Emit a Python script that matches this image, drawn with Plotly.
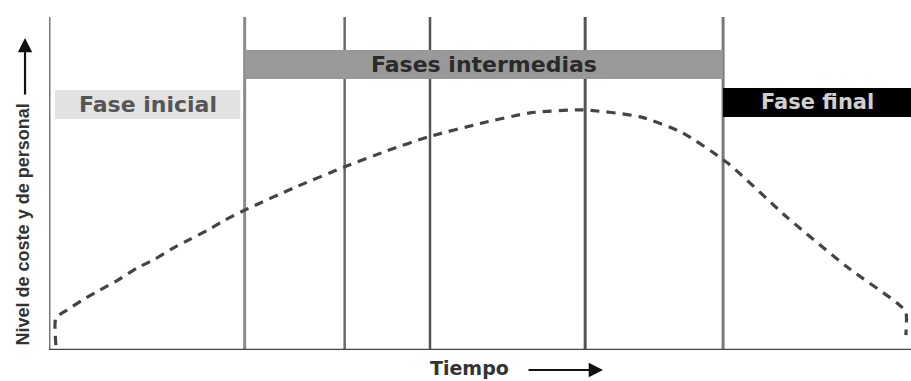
import plotly.graph_objects as go

# ---------------- data (time and level in % of the axes) ----------------
phase_labels = ["Fase inicial", "Fases intermedias", "Fase final"]
phase_start = [0.7, 22.7, 78.2]
phase_end = [22.2, 78.2, 100.0]
phase_low = [69.4, 81.4, 70.0]
phase_high = [78.1, 90.1, 78.7]

boundaries = [22.7, 34.3, 44.2, 62.2, 78.2]

curve_time = [0.8, 0.8, 2.1, 3.9, 5.9, 8.0, 10.2, 12.3, 14.4, 16.4, 18.4, 20.4,
              22.7, 28.5, 34.3, 39.2, 44.0, 50.0, 55.8, 61.9, 68.6, 73.5, 78.7,
              85.6, 92.6, 98.4, 99.4, 99.4]
curve_level = [1.5, 9.6, 12.0, 15.0, 18.0, 21.0, 24.6, 27.3, 30.6, 33.3, 36.0, 39.0,
               42.0, 48.8, 55.0, 59.8, 64.0, 68.0, 71.2, 72.1, 70.0, 65.2, 56.2,
               39.9, 24.9, 14.1, 11.4, 4.5]

y_title = "Nivel de coste y de personal"
x_title = "Tiempo"

# ---------------- styles ----------------
phase_fill = ["#e2e2e2", "#999999", "#000000"]
phase_font_color = ["#555555", "#2a2a2a", "#d0d0d0"]
phase_font_size = [22, 22, 21]
boundary_color = ["#8a8a8a", "#6a6a6a", "#555555", "#555555", "#7a7a7a"]
boundary_width = [3, 2.5, 2.5, 3, 3]
FONT = "DejaVu Sans"

fig = go.Figure()

fig.add_trace(go.Scatter(
    x=curve_time, y=curve_level, mode="lines",
    line=dict(color="#444444", width=3.2, dash="9px,7px", shape="spline", smoothing=0.6),
    hoverinfo="skip", showlegend=False, cliponaxis=False,
))

shapes = []
for b, c, w in zip(boundaries, boundary_color, boundary_width):
    shapes.append(dict(type="line", xref="x", yref="y", x0=b, x1=b, y0=0, y1=100,
                       line=dict(color=c, width=w), layer="below"))
for i in range(len(phase_labels)):
    shapes.append(dict(type="rect", xref="x", yref="y",
                       x0=phase_start[i], x1=phase_end[i],
                       y0=phase_low[i], y1=phase_high[i],
                       fillcolor=phase_fill[i], line=dict(width=0), layer="below"))
# axes lines
shapes.append(dict(type="line", xref="x", yref="y", x0=0, x1=0, y0=0, y1=100,
                   line=dict(color="#777777", width=3)))
shapes.append(dict(type="line", xref="x", yref="y", x0=0, x1=100, y0=0, y1=0,
                   line=dict(color="#444444", width=2.5)))

annotations = []
for i, lab in enumerate(phase_labels):
    annotations.append(dict(
        x=(phase_start[i] + phase_end[i]) / 2, y=(phase_low[i] + phase_high[i]) / 2,
        xref="x", yref="y", text=lab, showarrow=False,
        xanchor="center", yanchor="middle",
        font=dict(family=FONT, size=phase_font_size[i], color=phase_font_color[i], weight="bold"),
    ))

# y title (rotated) and its arrow
annotations.append(dict(x=-0.0302, y=0.377, xref="paper", yref="paper", text=y_title,
                        textangle=-90, showarrow=False, xanchor="center", yanchor="middle",
                        font=dict(family="Liberation Sans", size=18, color="#333333", weight="bold")))
annotations.append(dict(x=-0.0278, y=0.937, xref="paper", yref="paper", text="",
                        showarrow=True, ax=0, ay=58, arrowhead=2, arrowsize=1.3,
                        arrowwidth=2.2, arrowcolor="#111111", standoff=0))
# x title and its arrow
annotations.append(dict(x=0.488, y=-0.054, xref="paper", yref="paper", text=x_title,
                        showarrow=False, xanchor="center", yanchor="middle",
                        font=dict(family=FONT, size=19, color="#333333", weight="bold")))
annotations.append(dict(x=0.6427, y=-0.060, xref="paper", yref="paper", text="",
                        showarrow=True, ax=-76, ay=0, arrowhead=2, arrowsize=1.3,
                        arrowwidth=2.2, arrowcolor="#111111", standoff=0))

fig.update_layout(
    width=911, height=381,
    margin=dict(l=49, r=0, t=17, b=31),
    paper_bgcolor="white", plot_bgcolor="white",
    xaxis=dict(range=[0, 100], showgrid=False, zeroline=False, showticklabels=False,
               ticks="", showline=False, fixedrange=True),
    yaxis=dict(range=[0, 100], showgrid=False, zeroline=False, showticklabels=False,
               ticks="", showline=False, fixedrange=True),
    shapes=shapes, annotations=annotations, showlegend=False,
)

post = ("document.body.style.margin='0';document.body.style.padding='0';"
        "document.body.style.overflow='hidden';"
        "var gd=document.getElementById('{plot_id}');"
        "Plotly.relayout(gd,{width:911,height:381});")

fig.write_html("out.html", post_script=post, config={"displayModeBar": False})
